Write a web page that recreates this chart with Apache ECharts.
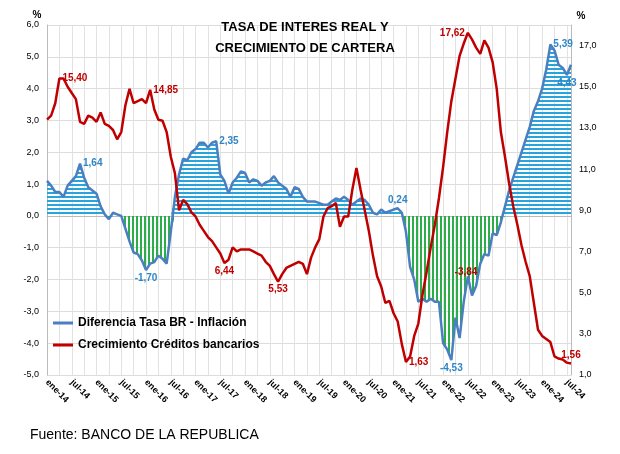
<!DOCTYPE html>
<html>
<head>
<meta charset="utf-8">
<script src="https://cdn.jsdelivr.net/npm/echarts@6/dist/echarts.min.js"></script>
<style>
  body { margin: 0; background: #fff; font-family: Calibri, Carlito, "Open Sans", sans-serif; }
  #chart { width: 620px; height: 454px; }
</style>
</head>
<body>
<div id="chart"></div>
<script>
// Monthly series, ene-14 .. ago-24
const years = ['14', '15', '16', '17', '18', '19', '20', '21', '22', '23', '24'];
const months = ['ene', 'feb', 'mar', 'abr', 'may', 'jun', 'jul', 'ago', 'sep', 'oct', 'nov', 'dic'];

// Diferencia Tasa BR - Inflación (left axis)
const realRate = [
  1.1, 0.95, 0.75, 0.75, 0.6, 0.95, 1.1, 1.25, 1.64, 1.2, 0.9, 0.8,
  0.7, 0.3, 0.05, -0.1, 0.1, 0.05, 0.0, -0.4, -0.8, -1.15, -1.2, -1.4,
  -1.7, -1.5, -1.45, -1.25, -1.35, -1.5, -0.5, 0.6, 1.3, 1.8, 1.75, 2.0,
  2.1, 2.3, 2.3, 2.15, 2.3, 2.35, 1.3, 1.1, 0.7, 1.05, 1.2, 1.4,
  1.35, 1.05, 1.15, 1.1, 0.95, 1.05, 1.1, 1.25, 1.05, 0.95, 0.85, 0.6,
  0.9, 0.85, 0.6, 0.45, 0.45, 0.45, 0.4, 0.35, 0.35, 0.45, 0.55, 0.5,
  0.6, 0.5, 0.35, 0.45, 0.55, 0.5, 0.35, 0.1, 0.05, 0.2, 0.1, 0.15,
  0.2, 0.24, 0.1, -0.5, -1.6, -2.0, -2.7, -2.6, -2.7, -2.6, -2.7, -2.7,
  -4.0, -4.2, -4.53, -3.2, -3.84, -2.7, -1.9, -2.5, -2.2, -1.5, -1.2, -1.25,
  -0.55, -0.6, -0.2, 0.3, 0.8, 1.2, 1.6, 2.0, 2.4, 2.8, 3.3, 3.6,
  4.0, 4.6, 5.39, 5.2, 4.75, 4.65, 4.43, 4.75
];

// Crecimiento Créditos bancarios (right axis)
const creditGrowth = [
  13.4, 13.6, 14.2, 15.4, 15.4, 15.0, 14.7, 14.4, 13.3, 13.2, 13.6, 13.5,
  13.3, 13.75, 13.2, 13.1, 12.9, 12.45, 12.8, 14.1, 14.9, 14.2, 14.3, 14.4,
  14.2, 14.85, 13.9, 13.4, 13.35, 12.8, 11.6, 10.8, 9.0, 9.5, 9.3, 8.9,
  8.7, 8.3, 8.0, 7.7, 7.5, 7.2, 6.9, 6.44, 6.6, 7.2, 7.0, 7.1,
  7.1, 7.1, 7.0, 6.9, 6.8, 6.5, 6.3, 5.9, 5.53, 5.9, 6.2, 6.3,
  6.4, 6.5, 6.4, 5.9, 6.7, 7.2, 7.6, 8.7, 9.1, 9.2, 9.35, 8.2,
  8.7, 8.7, 10.0, 11.05, 10.0, 9.0, 8.0, 6.8, 5.8, 5.3, 4.5, 4.6,
  4.0, 3.6, 2.5, 1.63, 1.9, 2.9, 3.5, 4.9, 6.0, 7.2, 8.3, 9.6,
  11.1, 12.8, 14.3, 15.4, 16.5, 17.1, 17.62, 17.3, 16.9, 16.6, 17.25, 16.9,
  16.2, 14.9, 12.8, 11.6, 10.3, 9.2, 8.3, 7.3, 6.5, 5.8, 4.5, 3.2,
  2.9, 2.75, 2.6, 1.9, 1.8, 1.75, 1.6, 1.56
];

// Labelled points: index -> label placement
const realLabels = {8: 'right', 24: 'bottom', 41: 'right', 85: 'top', 98: 'bottom', 100: 'right', 122: 'right', 126: 'bottom'};
const creditLabels = {3: 'right', 25: 'right', 43: 'bottom', 56: 'bottom', 87: 'right', 102: 'left', 127: 'top'};

const categories = [];
years.forEach(y => months.forEach(m => categories.push(m + '-' + y)));
categories.length = realRate.length;

const fmt = v => v.toFixed(2).replace('.', ',');

function stripes(color, vertical) {
  const c = document.createElement('canvas');
  c.width = 4; c.height = 4;
  const ctx = c.getContext('2d');
  ctx.fillStyle = color;
  if (vertical) ctx.fillRect(0, 0, 2, 4); else ctx.fillRect(0, 0, 4, 2);
  return {image: c, repeat: 'repeat'};
}

function labelled(values, labels, color) {
  return values.map((v, i) => {
    if (!(i in labels)) return v;
    const lbl = {show: true, position: labels[i], formatter: fmt(v), color: color,
      fontWeight: 'bold', fontSize: 10, fontFamily: 'Liberation Sans', distance: 3};
    if (i === 100) { lbl.offset = [-8, -66]; lbl.color = '#c00000'; }
    return {value: v, label: lbl};
  });
}

const chart = echarts.init(document.getElementById('chart'));
const gridFont = {fontFamily: 'Liberation Sans', fontSize: 9};

chart.setOption({
  backgroundColor: '#fff',
  animation: false,
  title: {
    text: 'TASA DE INTERES REAL Y\nCRECIMIENTO DE CARTERA',
    left: 300, top: 12, textAlign: 'center',
    textStyle: {fontSize: 13, fontWeight: 'bold', lineHeight: 21, fontFamily: 'Liberation Sans', color: '#000'}
  },
  graphic: [{
    type: 'text', left: 30, top: 428,
    style: {text: 'Fuente: BANCO DE LA REPUBLICA', fontSize: 14, fontFamily: 'Liberation Sans', fill: '#000'}
  }],
  legend: {
    orient: 'vertical', left: 48, top: 312, itemGap: 10, itemWidth: 20, itemHeight: 3, icon: 'rect',
    data: ['Diferencia Tasa BR - Inflación', 'Crecimiento Créditos bancarios'],
    textStyle: {fontSize: 12, fontWeight: 'bold', fontFamily: 'Liberation Sans', color: '#000'}
  },
  grid: {left: 47, right: 49, top: 25, bottom: 79},
  xAxis: {
    type: 'category', data: categories, boundaryGap: false,
    axisLine: {lineStyle: {color: '#bbb'}},
    axisTick: {show: false},
    axisLabel: {interval: 5, rotate: -45, ...gridFont, color: '#000', fontWeight: 'bold', margin: 6},
    splitLine: {show: true, interval: 2, lineStyle: {color: '#e2e2e2'}}
  },
  yAxis: [{
    type: 'value', min: -5, max: 6, interval: 1, name: '%', nameGap: 4,
    nameTextStyle: {fontWeight: 'bold', color: '#000', fontSize: 10, padding: [0, 20, 0, 0]},
    axisLabel: {...gridFont, color: '#000', formatter: v => v.toFixed(1).replace('.', ',')},
    axisLine: {show: true, lineStyle: {color: '#bbb'}},
    splitLine: {lineStyle: {color: '#ddd'}}
  }, {
    type: 'value', min: 1, max: 18, interval: 2, name: '%', nameGap: 4,
    nameTextStyle: {fontWeight: 'bold', color: '#000', fontSize: 10, padding: [0, 0, 0, 20]},
    axisLabel: {...gridFont, color: '#000', formatter: v => v > 17 ? '' : v.toFixed(1).replace('.', ',')},
    axisLine: {show: true, lineStyle: {color: '#bbb'}},
    splitLine: {show: false}
  }],
  series: [{
    name: 'pos', type: 'line', data: realRate.map(v => Math.max(v, 0)),
    symbol: 'none', lineStyle: {width: 0}, silent: true,
    areaStyle: {color: stripes('#29a3dc', false), opacity: 1}
  }, {
    name: 'neg', type: 'line', data: realRate.map(v => Math.min(v, 0)),
    symbol: 'none', lineStyle: {width: 0}, silent: true,
    areaStyle: {color: stripes('#2bae4a', true), opacity: 1}
  }, {
    name: 'Diferencia Tasa BR - Inflación', type: 'line',
    data: labelled(realRate, realLabels, '#2e86c8'),
    symbol: 'circle', symbolSize: 0, showSymbol: true, showAllSymbol: true,
    itemStyle: {color: '#4a7fc0'}, lineStyle: {color: '#4a7fc0', width: 2.5}
  }, {
    name: 'Crecimiento Créditos bancarios', type: 'line', yAxisIndex: 1,
    data: labelled(creditGrowth, creditLabels, '#c00000'),
    symbol: 'circle', symbolSize: 0, showSymbol: true, showAllSymbol: true,
    itemStyle: {color: '#c00000'}, lineStyle: {color: '#c00000', width: 2.5}
  }]
});
</script>
</body>
</html>
